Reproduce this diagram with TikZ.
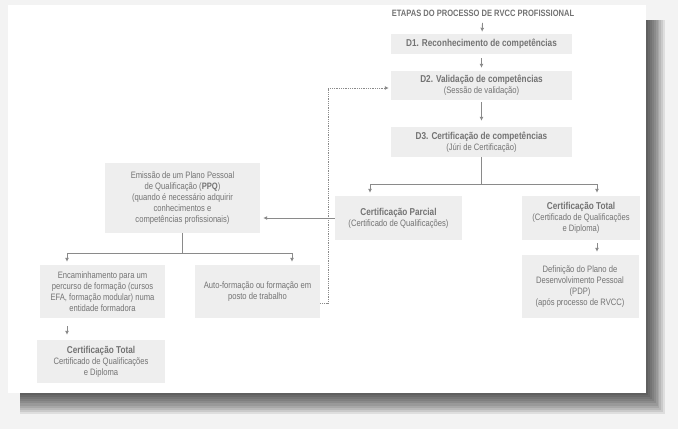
\documentclass[tikz,border=0pt]{standalone}
\usepackage{fontspec}
\setmainfont{Liberation Sans}[FakeStretch=0.82]
\usetikzlibrary{arrows.meta,positioning}
\definecolor{boxgray}{HTML}{EEEEEE}
\definecolor{txtgray}{HTML}{737373}
\definecolor{lngray}{HTML}{8A8A8A}
\definecolor{bggray}{HTML}{F3F3F3}
\newcommand{\hd}[1]{{\bfseries\fontsize{10}{11}\selectfont #1}}

\begin{document}
\begin{tikzpicture}[x=1pt,y=-1pt,>={Latex[length=4pt,width=4pt]},
  stepbox/.style={fill=boxgray,text=txtgray,align=center,inner sep=0pt,
    font=\fontsize{9.3}{11}\selectfont},
  conn/.style={draw=lngray,line width=0.9pt},
  dotconn/.style={draw=lngray,line width=0.8pt,densely dotted}]
  % page and its shadow
  \useasboundingbox (0,0) rectangle (678,429);
  \fill[bggray] (0,0) rectangle (678,429);
  \foreach \i in {0,...,9}
    \fill[black,opacity=0.085] (20,20) rectangle (648+1.9*\i,395+2.1*\i);
  \fill[white] (8,5) rectangle (646,393);

  % stages
  \node[text=txtgray,font=\bfseries\fontsize{9.2}{10}\selectfont] (title) at (483,13)
    {ETAPAS DO PROCESSO DE RVCC PROFISSIONAL};
  \node[stepbox,minimum width=181,minimum height=20] (d1) at (481.5,44)
    {\hd{D1. Reconhecimento de competências}};
  \node[stepbox,minimum width=181,minimum height=29] (d2) at (481.5,85.5)
    {\hd{D2. Validação de competências}\\(Sessão de validação)};
  \node[stepbox,minimum width=181,minimum height=30] (d3) at (481.5,142)
    {\hd{D3. Certificação de competências}\\(Júri de Certificação)};

  % outcomes
  \node[stepbox,minimum width=127,minimum height=44] (parcial) at (398.5,218)
    {\hd{Certificação Parcial}\\(Certificado de Qualificações)};
  \node[stepbox,minimum width=118,minimum height=44] (total) at (581,218)
    {\hd{Certificação Total}\\(Certificado de Qualificações\\e Diploma)};
  \node[stepbox,minimum width=117,minimum height=63] (pdp) at (580,286.5)
    {Definição do Plano de\\Desenvolvimento Pessoal\\(PDP)\\(após processo de RVCC)};
  \node[stepbox,minimum width=155,minimum height=70] (ppq) at (182.5,198)
    {Emissão de um Plano Pessoal\\de Qualificação (\textbf{PPQ})\\(quando é necessário adquirir\\conhecimentos e\\competências profissionais)};
  \node[stepbox,minimum width=125,minimum height=53] (enc) at (102.5,291.5)
    {Encaminhamento para um\\percurso de formação (cursos\\EFA, formação modular) numa\\entidade formadora};
  \node[stepbox,minimum width=125,minimum height=53] (auto) at (257.5,291.5)
    {Auto-formação ou formação em\\posto de trabalho};
  \node[stepbox,minimum width=128,minimum height=43] (total2) at (101,361.5)
    {\hd{Certificação Total}\\Certificado de Qualificações\\e Diploma};

  % connectors
  \draw[conn,->,shorten <=3pt,shorten >=2pt] (title) -- (d1);
  \draw[conn,->,shorten <=4pt,shorten >=3pt] (d1) -- (d2);
  \draw[conn,->,shorten <=2pt,shorten >=6pt] (d2) -- (d3);
  \coordinate (br1) at (481.5,184);
  \coordinate (br1l) at (370,184);
  \coordinate (br1r) at (597,184);
  \draw[conn] (d3) -- (br1);
  \draw[conn] (br1l) -- (br1r);
  \draw[conn,->,shorten >=3pt] (br1l) -- (br1l |- parcial.north);
  \draw[conn,->,shorten >=3pt] (br1r) -- (br1r |- total.north);
  \draw[conn,->,shorten <=3pt,shorten >=3pt] (total.south -| br1r) -- (br1r |- pdp.north);
  \draw[conn,->,shorten >=3pt] (parcial.west) -- (parcial.west -| ppq.east);
  \coordinate (br2) at (182.5,253);
  \coordinate (br2l) at (67,253);
  \coordinate (br2r) at (292,253);
  \draw[conn] (ppq) -- (br2);
  \draw[conn] (br2l) -- (br2r);
  \draw[conn,->,shorten >=3pt] (br2l) -- (br2l |- enc.north);
  \draw[conn,->,shorten >=3pt] (br2r) -- (br2r |- auto.north);
  \draw[conn,->,shorten <=8pt,shorten >=5pt] (enc.south -| br2l) -- (br2l |- total2.north);
  \coordinate (dt1) at (328,303);
  \coordinate (dt2) at (328,88);
  \draw[dotconn,->,shorten >=2pt] (auto.east |- dt1) -- (dt1) -- (dt2) -- (dt2 -| d2.west);
\end{tikzpicture}
\end{document}
